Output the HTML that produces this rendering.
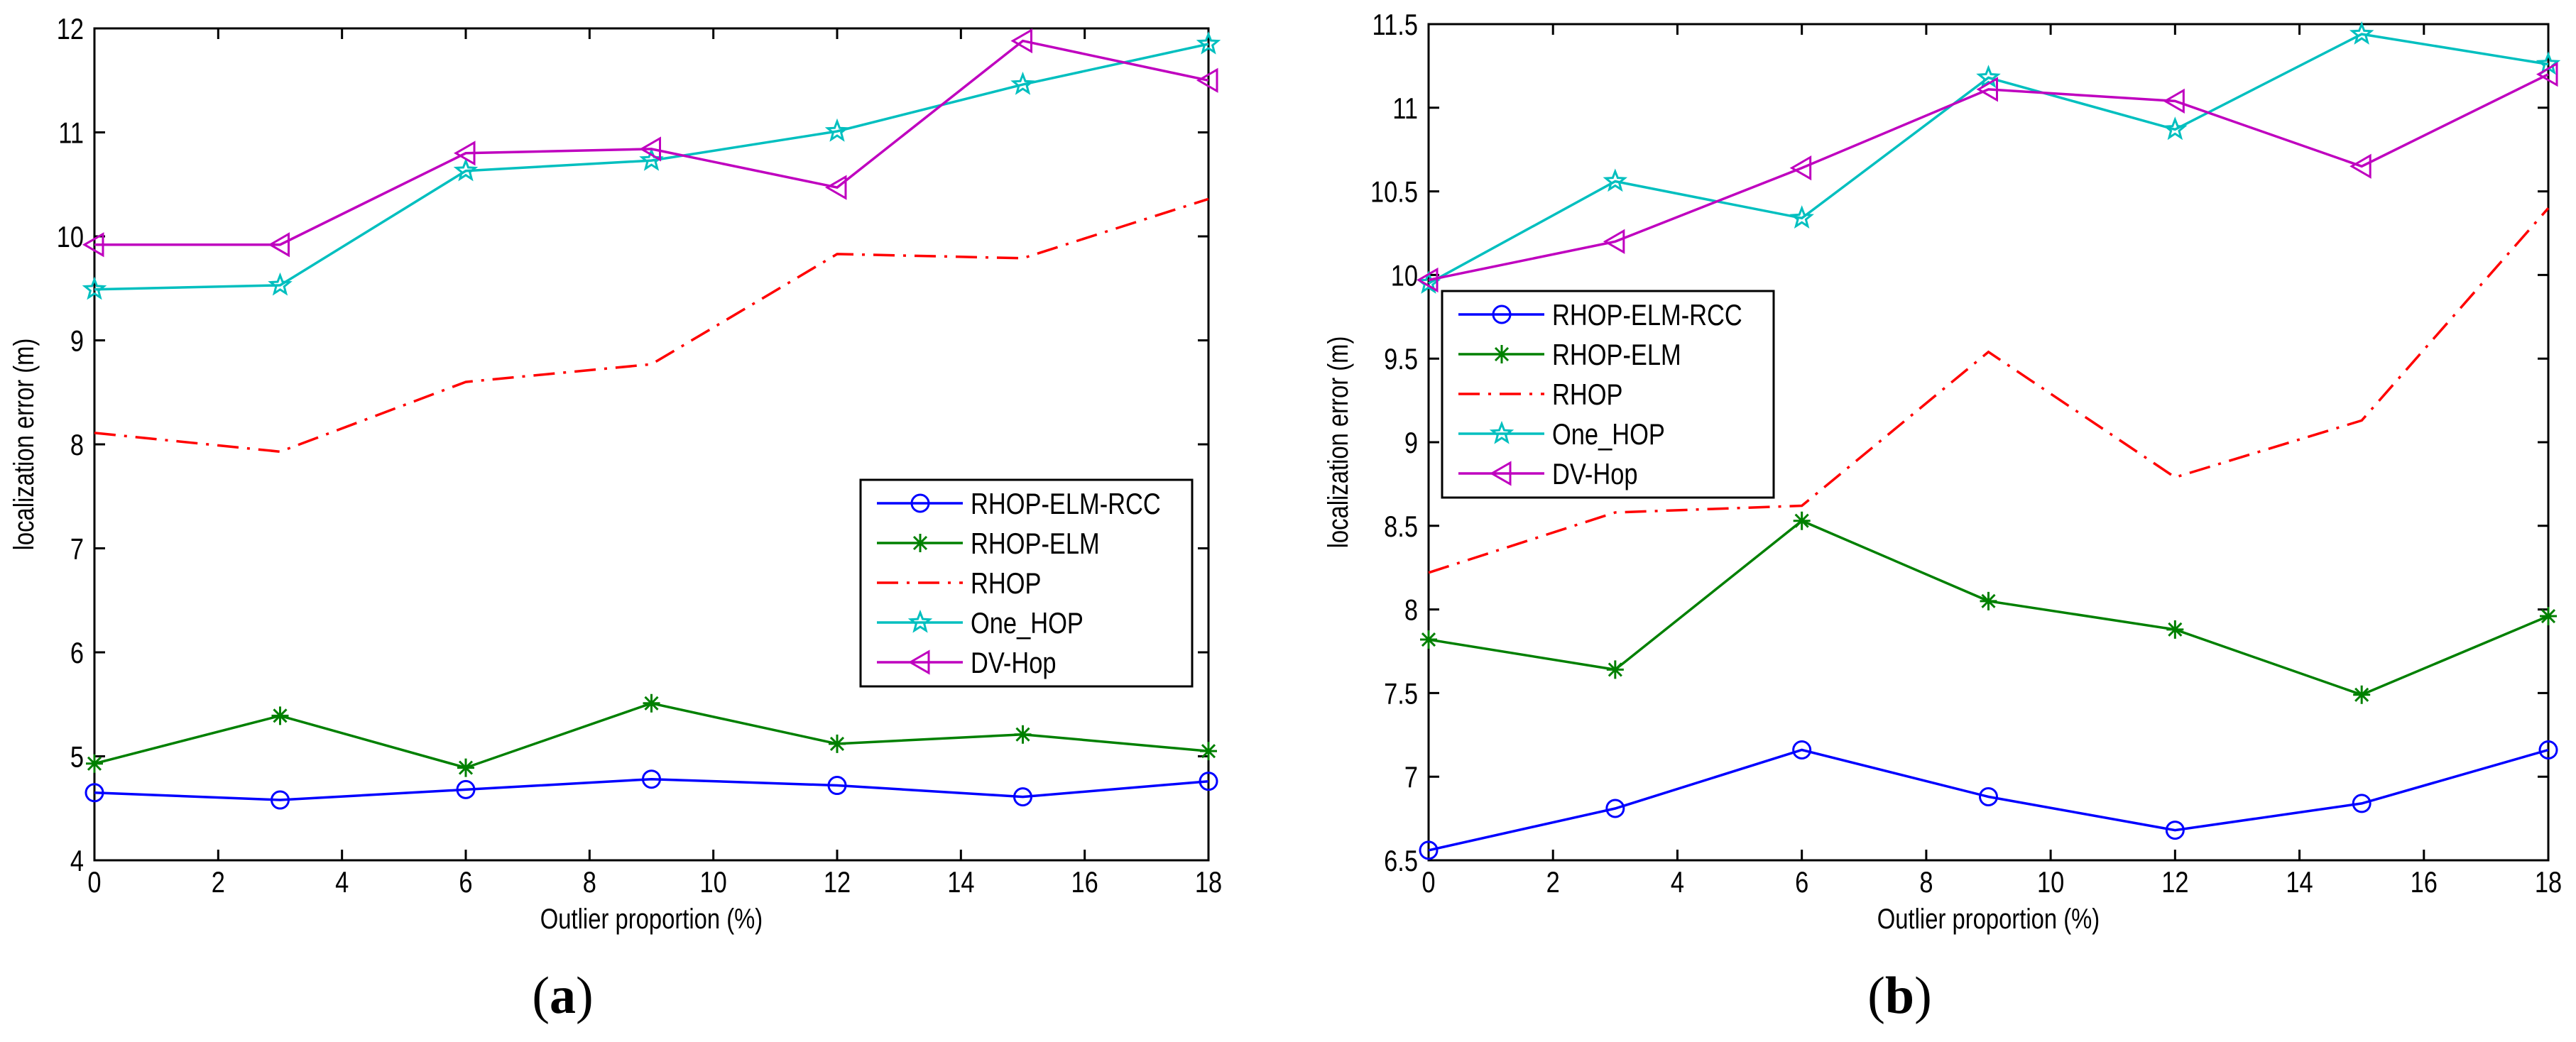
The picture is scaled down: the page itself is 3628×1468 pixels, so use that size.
<!DOCTYPE html>
<html><head><meta charset="utf-8"><style>
html,body{margin:0;padding:0;background:#fff;}
svg{display:block;}
text{font-family:"Liberation Sans",sans-serif;}
</style></head><body>
<svg id="fig" width="3628" height="1468" viewBox="0 0 3628 1468" xmlns="http://www.w3.org/2000/svg"></svg>
<script>
const xCats = [0, 3, 6, 9, 12, 15, 18];
const xTicks = [0, 2, 4, 6, 8, 10, 12, 14, 16, 18];
const seriesNames = ["RHOP-ELM-RCC", "RHOP-ELM", "RHOP", "One_HOP", "DV-Hop"];
// panel (a)
const aTicksY = [4, 5, 6, 7, 8, 9, 10, 11, 12];
const aRCC = [4.65, 4.58, 4.68, 4.78, 4.72, 4.61, 4.76];
const aELM = [4.93, 5.39, 4.89, 5.51, 5.12, 5.21, 5.05];
const aRHOP = [8.11, 7.93, 8.60, 8.77, 9.83, 9.79, 10.36];
const aOne = [9.49, 9.53, 10.63, 10.73, 11.01, 11.46, 11.85];
const aDV = [9.92, 9.92, 10.80, 10.84, 10.47, 11.88, 11.50];
// panel (b)
const bTicksY = [6.5, 7, 7.5, 8, 8.5, 9, 9.5, 10, 10.5, 11, 11.5];
const bTickLabels = ["6.5", "7", "7.5", "8", "8.5", "9", "9.5", "10", "10.5", "11", "11.5"];
const bRCC = [6.56, 6.81, 7.16, 6.88, 6.68, 6.84, 7.16];
const bELM = [7.82, 7.64, 8.53, 8.05, 7.88, 7.49, 7.96];
const bRHOP = [8.22, 8.58, 8.62, 9.54, 8.79, 9.13, 10.40];
const bOne = [9.95, 10.56, 10.34, 11.18, 10.87, 11.44, 11.26];
const bDV = [9.97, 10.20, 10.64, 11.11, 11.04, 10.65, 11.20];

const NS = "http://www.w3.org/2000/svg";
const svg = document.getElementById("fig");
const SQ = 0.82;
function mk(tag, attrs, parent) {
  const e = document.createElementNS(NS, tag);
  for (const k in attrs) e.setAttribute(k, attrs[k]);
  (parent || svg).appendChild(e);
  return e;
}
function ntext(parent, x, y, size, anchor, str, rot) {
  const t = mk("text", {x: 0, y: 0, "font-size": size, "text-anchor": anchor, fill: "#000",
    transform: `translate(${x},${y})${rot ? " rotate(-90)" : ""} scale(${SQ},1)`}, parent);
  t.textContent = str;
  return t;
}
const styles = [
  {color: "#0000ff", marker: "circle", dash: null},
  {color: "#008000", marker: "star", dash: null},
  {color: "#ff0000", marker: null, dash: "30 12 4 12"},
  {color: "#00bfbf", marker: "pent", dash: null},
  {color: "#bf00bf", marker: "tri", dash: null}
];
function drawMarker(g, type, x, y, color) {
  let m;
  if (type === "circle") {
    m = mk("circle", {cx: x, cy: y, r: 12, fill: "none", stroke: color, "stroke-width": 3}, g);
  } else if (type === "star") {
    m = mk("path", {d: `M${x-12},${y}H${x+12}M${x},${y-13}V${y+13}M${x-9},${y-9}L${x+9},${y+9}M${x-9},${y+9}L${x+9},${y-9}`, stroke: color, "stroke-width": 3, fill: "none"}, g);
  } else if (type === "pent") {
    let pts = [];
    for (let i = 0; i < 10; i++) {
      const r = i % 2 ? 6 : 14, a = -Math.PI / 2 + i * Math.PI / 5;
      pts.push((x + r * Math.cos(a)).toFixed(1) + "," + (y + r * Math.sin(a)).toFixed(1));
    }
    m = mk("polygon", {points: pts.join(" "), fill: "none", stroke: color, "stroke-width": 3}, g);
  } else if (type === "tri") {
    m = mk("polygon", {points: `${x-14},${y} ${x+12},${y-15} ${x+12},${y+15}`, fill: "none", stroke: color, "stroke-width": 3}, g);
  }
  return m;
}

function panel(opt) {
  const g = mk("g", {});
  
  
  const {L, R, T, B, ymin, ymax} = opt;
  const sx = v => L + (v - 0) / 18 * (R - L);
  const sy = v => B - (v - ymin) / (ymax - ymin) * (B - T);
  xTicks.forEach(t => {
    const x = sx(t);
    mk("path", {d: `M${x},${B}V${B-15}M${x},${T}V${T+15}`, stroke: "#000", "stroke-width": 3}, g);
    const tx = ntext(g, x, 1257, 42, "middle", String(t));
    
    
  });
  opt.yTicks.forEach((t, i) => {
    const y = sy(t);
    mk("path", {d: `M${L},${y}H${L+15}M${R},${y}H${R-15}`, stroke: "#000", "stroke-width": 3}, g);
    const ty = ntext(g, L - 15, y + 15, 42, "end", opt.yLabels ? opt.yLabels[i] : String(t));
    
    
  });
  const frame = mk("rect", {x: L, y: T, width: R - L, height: B - T, fill: "none", stroke: "#000", "stroke-width": 3}, g);
  
  
  opt.series.forEach((vals, si) => {
    const st = styles[si];
    const sg = mk("g", {}, g);
    
    
    const pts = vals.map((v, i) => sx(xCats[i]).toFixed(1) + "," + sy(v).toFixed(1)).join(" ");
    const pl = mk("polyline", {points: pts, fill: "none", stroke: st.color, "stroke-width": 3.5}, sg);
    if (st.dash) pl.setAttribute("stroke-dasharray", st.dash);
    if (st.marker) vals.forEach((v, i) => {
      const m = drawMarker(sg, st.marker, sx(xCats[i]), sy(v), st.color);
      
      
    });
  });
  const lg = mk("g", {}, g);
  
  
  mk("rect", {x: opt.lx, y: opt.ly, width: 467, height: 291, fill: "#fff", stroke: "#000", "stroke-width": 3}, lg);
  seriesNames.forEach((n, i) => {
    const cy = opt.ly + 33 + i * 56;
    const eg = mk("g", {}, lg);
    
    
    const st = styles[i];
    const ln = mk("line", {x1: opt.lx + 23, x2: opt.lx + 144, y1: cy, y2: cy, stroke: st.color, "stroke-width": 3.5}, eg);
    if (st.dash) ln.setAttribute("stroke-dasharray", st.dash);
    if (st.marker) drawMarker(eg, st.marker, opt.lx + 84, cy, st.color);
    ntext(eg, opt.lx + 155, cy + 15, 42, "start", n);
  });
  const xt = ntext(g, (L + R) / 2, 1308, 40, "middle", "Outlier proportion (%)");
  
  
  const yt = ntext(g, opt.ytx, (T + B) / 2, 40, "middle", "localization error (m)", true);
  
  
  const cap = mk("text", {x: (L + R) / 2 - 125, y: 1427, "font-size": 74, "text-anchor": "middle", fill: "#000", style: "font-family:'Liberation Serif',serif"}, g);
  cap.innerHTML = '(<tspan font-weight="bold">' + opt.letter + '</tspan>)';
  
  
}
panel({name: "panel-a", L: 133, R: 1702, T: 40, B: 1212, ymin: 4, ymax: 12, yTicks: aTicksY,
  series: [aRCC, aELM, aRHOP, aOne, aDV], lx: 1212, ly: 676, ytx: 47, letter: "a"});
panel({name: "panel-b", L: 2012, R: 3589, T: 34, B: 1212, ymin: 6.5, ymax: 11.5, yTicks: bTicksY, yLabels: bTickLabels,
  series: [bRCC, bELM, bRHOP, bOne, bDV], lx: 2031, ly: 410, ytx: 1898, letter: "b"});
</script>
</body></html>
